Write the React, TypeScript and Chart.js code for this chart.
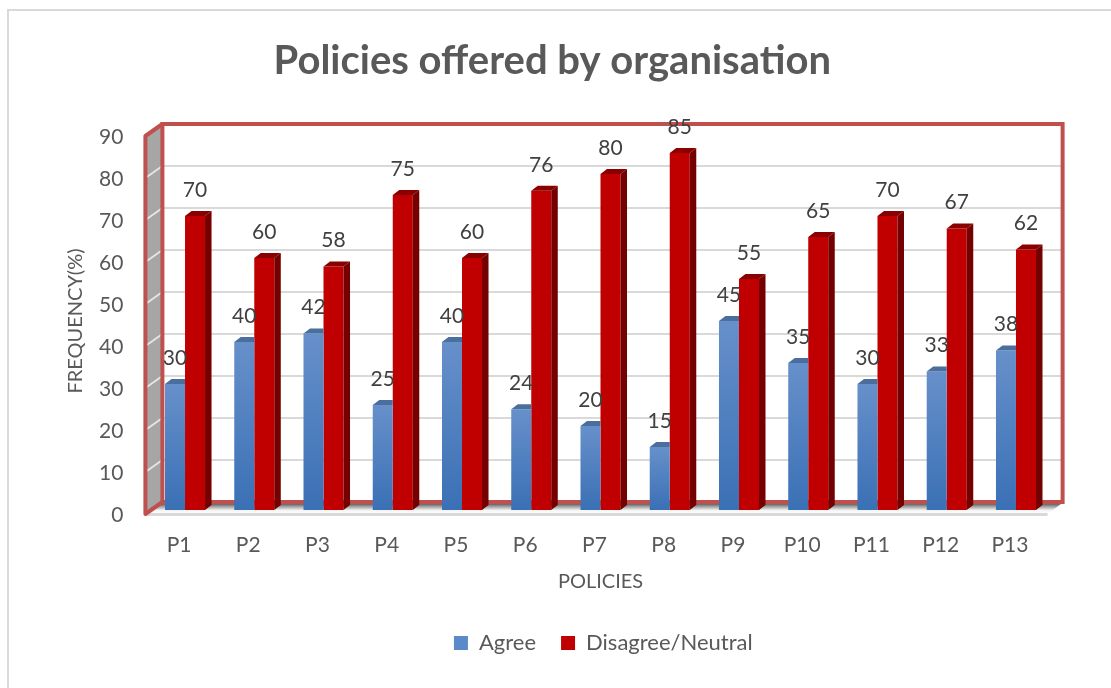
import React, { useEffect, useRef } from "react";
import { Chart, registerables } from "chart.js";

Chart.register(...registerables);

const categories = ["P1","P2","P3","P4","P5","P6","P7","P8","P9","P10","P11","P12","P13"];
const agree = [30,40,42,25,40,24,20,15,45,35,30,33,38];
const disagree = [70,60,58,75,60,76,80,85,55,65,70,67,62];
const yTicks = [0,10,20,30,40,50,60,70,80,90];
const FONT = "Lato, Carlito, sans-serif";

const BLUE_TOP = "#6790CA", BLUE_BOT = "#3A70B5";
const RED = "#C00000";
const BW = { dx: 6.5, dy: -5 };

function poly(ctx: CanvasRenderingContext2D, pts: number[][], fill?: any) {
  ctx.beginPath();
  pts.forEach((p, i) => (i ? ctx.lineTo(p[0], p[1]) : ctx.moveTo(p[0], p[1])));
  ctx.closePath();
  ctx.fillStyle = fill;
  ctx.fill();
}

const frame3d = {
  id: "frame3d",
  afterLayout(chart: any) {
    chart.titleBlock.left += 27;
    chart.titleBlock.right += 27;
    chart.legend.left += 78;
    chart.legend.right += 78;
  },
  beforeDraw(chart: any) {
    const ctx = chart.ctx;
    ctx.save();
    ctx.fillStyle = "#fff";
    ctx.fillRect(0, 0, chart.width, chart.height);
    ctx.strokeStyle = "#D9D9D9";
    ctx.lineWidth = 2;
    ctx.strokeRect(8, 10, 1200, 800);
    ctx.restore();
  },
  beforeDatasetsDraw(chart: any) {
    const ctx = chart.ctx;
    const { x, y } = chart.scales;
    const l = x.left, r = x.right;
    const fx = -5, fy = 4, bx = 12, by = -8;
    const wf = l + fx, wb = l + bx, rb = r + bx;
    const yv = (v: number, o: number) => y.getPixelForValue(v) + o;
    ctx.save();
    // floor
    const grad = ctx.createLinearGradient(0, yv(0, by), 0, yv(0, fy));
    grad.addColorStop(0, "#333");
    grad.addColorStop(0.35, "#999");
    grad.addColorStop(0.7, "#f5f5f5");
    grad.addColorStop(1, "#ffffff");
    poly(ctx, [[wf, yv(0, fy)], [r - 3, yv(0, fy)], [rb + 1, yv(0, by)], [wb, yv(0, by)]], grad);
    ctx.fillStyle = "#D9D9D9";
    ctx.fillRect(wf, yv(0, fy) - 1, r - 3 - wf, 3);
    // left wall
    poly(ctx, [[wf, yv(0, fy)], [wb, yv(0, by)], [wb, yv(90, by)], [wf, yv(90, fy)]], "#A6A6A6");
    // back wall
    ctx.fillStyle = "#fff";
    ctx.fillRect(wb, yv(90, by), rb - wb, yv(0, by) - yv(90, by));
    yTicks.forEach((t) => {
      if (t === 0 || t === 90) return;
      ctx.lineWidth = 2;
      ctx.beginPath();
      ctx.moveTo(wf, yv(t, fy));
      ctx.lineTo(wb, yv(t, by));
      ctx.strokeStyle = "#E4E4E4";
      ctx.stroke();
      ctx.beginPath();
      ctx.moveTo(wb, yv(t, by));
      ctx.lineTo(rb, yv(t, by));
      ctx.strokeStyle = "#D9D9D9";
      ctx.stroke();
    });
    // red frame
    ctx.strokeStyle = "#C0504D";
    ctx.lineWidth = 4;
    ctx.lineJoin = "miter";
    ctx.strokeRect(wb, yv(90, by), rb - wb, yv(0, by) - yv(90, by));
    ctx.lineJoin = "round";
    ctx.beginPath();
    ctx.moveTo(wb, yv(90, by));
    ctx.lineTo(wf, yv(90, fy));
    ctx.lineTo(wf, yv(0, fy));
    ctx.lineTo(wb, yv(0, by));
    ctx.stroke();
    ctx.restore();
  },
  // Chart.js paints the last dataset first, so the blue bars land on top of the
  // red ones: blue's 3D faces are clipped wherever the red neighbour covers them.
  afterDatasetDraw(chart: any, args: any) {
    const ctx = chart.ctx;
    const i = args.index;
    const meta = chart.getDatasetMeta(i);
    const top = i === 0 ? "#4A6F9E" : "#8A0000";
    const side = i === 0 ? "#34598A" : "#750000";
    ctx.save();
    meta.data.forEach((b: any, j: number) => {
      const xl = b.x - b.width / 2, xr = b.x + b.width / 2, yt = b.y, yb = b.base;
      const nb = i === 0 ? chart.getDatasetMeta(1).data[j] : null;
      const covered = nb && nb.y < yt;
      ctx.save();
      if (covered) {
        ctx.beginPath();
        ctx.rect(xl - 1, 0, xr - xl + 1, chart.height);
        ctx.clip();
      }
      poly(ctx, [[xl, yt], [xl + BW.dx, yt + BW.dy], [xr + BW.dx, yt + BW.dy], [xr, yt]], top);
      if (!covered) poly(ctx, [[xr, yt], [xr + BW.dx, yt + BW.dy], [xr + BW.dx, yb + BW.dy], [xr, yb]], side);
      ctx.restore();
    });
    ctx.restore();
  },
  afterDatasetsDraw(chart: any) {
    const ctx = chart.ctx;
    ctx.save();
    ctx.font = `21px ${FONT}`;
    ctx.fillStyle = "#404040";
    ctx.textAlign = "center";
    ctx.textBaseline = "middle";
    chart.data.datasets.forEach((ds: any, i: number) => {
      chart.getDatasetMeta(i).data.forEach((b: any, j: number) => {
        ctx.fillText(String(ds.data[j]), b.x, b.y - 26);
      });
    });
    ctx.restore();
  },
};

export default function App() {
  const ref = useRef<HTMLCanvasElement>(null);
  useEffect(() => {
    const chart = new Chart(ref.current!, {
      type: "bar",
      data: {
        labels: categories,
        datasets: [
          {
            label: "Agree",
            data: agree,
            backgroundColor: (c: any) => {
              const v = c.dataset.data[c.dataIndex];
              const s = c.chart.scales?.y;
              if (!s || v == null) return BLUE_TOP;
              const g = c.chart.ctx.createLinearGradient(0, s.getPixelForValue(v), 0, s.getPixelForValue(0));
              g.addColorStop(0, BLUE_TOP);
              g.addColorStop(1, BLUE_BOT);
              return g;
            },
          },
          { label: "Disagree/Neutral", data: disagree, backgroundColor: RED },
        ],
      },
      options: {
        responsive: false,
        animation: false,
        layout: { padding: { left: 0, right: 60.4, top: 0, bottom: 24 } },
        datasets: { bar: { categoryPercentage: 0.578, barPercentage: 1 } },
        plugins: {
          tooltip: { enabled: false },
          title: {
            display: true,
            text: "Policies offered by organisation",
            color: "#595959",
            font: { family: FONT, size: 40, weight: "bold" },
            padding: { top: 37, bottom: 47 },
          },
          legend: {
            position: "bottom",
            labels: {
              color: "#595959",
              font: { family: FONT, size: 22 },
              boxWidth: 14,
              boxHeight: 14,
              padding: 25,
              generateLabels: () => [
                { text: "Agree", fillStyle: "#5B8AC8", strokeStyle: "transparent", lineWidth: 0, fontColor: "#595959", datasetIndex: 0 },
                { text: "Disagree/Neutral", fillStyle: RED, strokeStyle: "transparent", lineWidth: 0, fontColor: "#595959", datasetIndex: 1 },
              ],
            },
          },
        },
        scales: {
          x: {
            afterFit: (s: any) => { s.height = 97; },
            grid: { display: false, drawTicks: false },
            border: { display: false },
            ticks: { color: "#595959", font: { family: FONT, size: 21 }, padding: 23, maxRotation: 0, labelOffset: -6 },
            title: { display: true, text: "POLICIES", color: "#595959", font: { family: FONT, size: 20 }, padding: { top: 0, bottom: 13 } },
          },
          y: {
            afterFit: (s: any) => { s.width = 150.4; },
            min: 0,
            max: 90,
            grid: { display: false, drawTicks: false },
            border: { display: false },
            ticks: { stepSize: 10, color: "#595959", font: { family: FONT, size: 21 }, padding: 27, labelOffset: 5 },
            title: { display: true, text: "FREQUENCY(%)", color: "#595959", font: { family: FONT, size: 20 }, padding: { top: 64, bottom: 0 } },
          },
        },
      },
      plugins: [frame3d],
    } as any);
    return () => chart.destroy();
  }, []);
  return (
    <div style={{ position: "fixed", left: 0, top: 0, width: 1111, height: 688 }}>
      <canvas ref={ref} width={1111} height={688} style={{ display: "block" }} />
    </div>
  );
}
